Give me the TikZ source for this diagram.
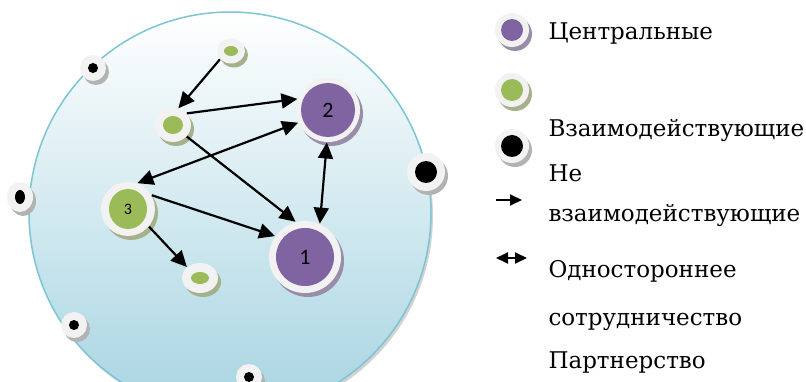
\documentclass[tikz,border=0pt]{standalone}
\usepackage{fontspec}
\setmainfont{DejaVu Serif}
\newfontfamily\legfont{DejaVu Serif}
\newfontfamily\numfont{Carlito}
\usepackage{tikz}
\usetikzlibrary{shapes.geometric}
\usetikzlibrary{shadows}
\usetikzlibrary{positioning}
\usetikzlibrary{arrows.meta}
\definecolor{centr}{RGB}{128,100,162}
\definecolor{vzaim}{RGB}{155,187,89}
\definecolor{ringgray}{RGB}{242,242,242}
\definecolor{bgblue}{RGB}{166,212,225}
\definecolor{bgmid}{RGB}{214,236,242}
\definecolor{edgeblue}{RGB}{125,196,212}
\tikzset{every picture/.style={line width=1pt},
  ring/.style={circle, fill=ringgray, inner sep=0pt, minimum size=#1},
  oring/.style 2 args={ellipse, fill=ringgray, inner sep=0pt, minimum width=#1, minimum height=#2},
  core/.style 2 args={path picture={\fill[#1] (path picture bounding box.center) ellipse (#2);}},
  sh/.style={general shadow={fill=#1, shadow xshift=3pt, shadow yshift=-4pt}},
  link/.style={line width=2.2pt, -{Triangle[length=16pt,width=15pt]}},
  both/.style={line width=2.2pt, {Triangle[length=16pt,width=15pt]}-{Triangle[length=16pt,width=15pt]}},
  legend/.style={anchor=base west, inner sep=0pt, font=\legfont\fontsize{23}{30}\selectfont}}

\begin{document}
\begin{tikzpicture}[x=1pt, y=-1pt]
\useasboundingbox (0,0) rectangle (806,382);
% the group
\fill [gray!35] (232,216) circle (201pt);
\shadedraw [top color=white, middle color=bgmid, bottom color=bgblue, draw=edgeblue, line width=1.5pt] (230,213) circle (201pt);
% central ones
\node (c2) at (328,110) [ring=64pt, sh=centr!55!gray!80, core={centr}{27pt and 27pt}, font=\numfont\fontsize{22}{24}\selectfont] {2};
\node (c1) at (305,257) [ring=72pt, sh=centr!55!gray!80, core={centr}{29pt and 29pt}, font=\numfont\fontsize{22}{24}\selectfont] {1};
% interacting ones
\node (g3) at (128,209) [ring=54pt, sh=vzaim!50!gray!80, core={vzaim}{19pt and 20pt}, font=\numfont\fontsize{16}{18}\selectfont] {3};
\node (gt) at (231,51) [oring={28pt}{25pt}, sh=vzaim!50!gray!80, core={vzaim}{7pt and 5pt}] {};
\node (gm) at (173,125) [oring={36pt}{34pt}, sh=vzaim!50!gray!80, core={vzaim}{10pt and 9pt}] {};
\node (gb) at (200,278) [oring={36pt}{30pt}, sh=vzaim!50!gray!80, core={vzaim}{9pt and 6pt}] {};
% not interacting
\foreach \n/\x/\y in {1/93/68, 4/74/325, 5/249/377} {
  \node (b\n) at (\x,\y) [ring=26pt, sh=gray!60, core={black}{5pt and 5pt}] {};
}
\node (b2) at (20,197) [oring={26pt}{30pt}, sh=gray!60, core={black}{5pt and 7pt}] {};
\node (b3) at (426,172) [ring=38pt, sh=gray!60, core={black}{11pt and 11pt}] {};
% links
\draw [link] (gt.217) -- (gm.72);
\draw [link] (gm.40) -- (c2.160);
\draw [link] (gm.-40) -- (c1.105);
\draw [both] (c2.203) -- (g3.70);
\draw [link] (g3.30) -- (c1.145);
\draw [link] (g3.-40) -- (gb.140);
\draw [both] (c1.66) -- (c2.-92);
% legend
\node (k1) at (512,30) [ring=34pt, sh=centr!55!gray!80, core={centr}{11pt and 11pt}] {};
\node (k2) at (512,90) [ring=34pt, sh=vzaim!50!gray!80, core={vzaim}{11pt and 11pt}] {};
\node (k3) at (512,146) [ring=34pt, sh=gray!60, core={black}{11pt and 11pt}] {};
\coordinate (a1) at (496,200);
\coordinate (a2) at (522,200);
\coordinate (d1) at (496,258);
\coordinate (d2) at (527,258);
\draw [line width=1.8pt, -{Triangle[length=12pt,width=11pt]}] (a1) -- (a2);
\draw [line width=1.8pt, {Triangle[length=12pt,width=11pt]}-{Triangle[length=12pt,width=11pt]}] (d1) -- (d2);
\node (t1) at (548,40) [legend] {Центральные};
\node (t2) at (548,137) [legend] {Взаимодействующие};
\node (t3) at (548,182) [legend] {Не};
\node (t4) at (548,222) [legend] {взаимодействующие};
\node (t5) at (548,277) [legend] {Одностороннее};
\node (t6) at (548,325) [legend] {сотрудничество};
\node (t7) at (548,368) [legend] {Партнерство};
\end{tikzpicture}
\end{document}
